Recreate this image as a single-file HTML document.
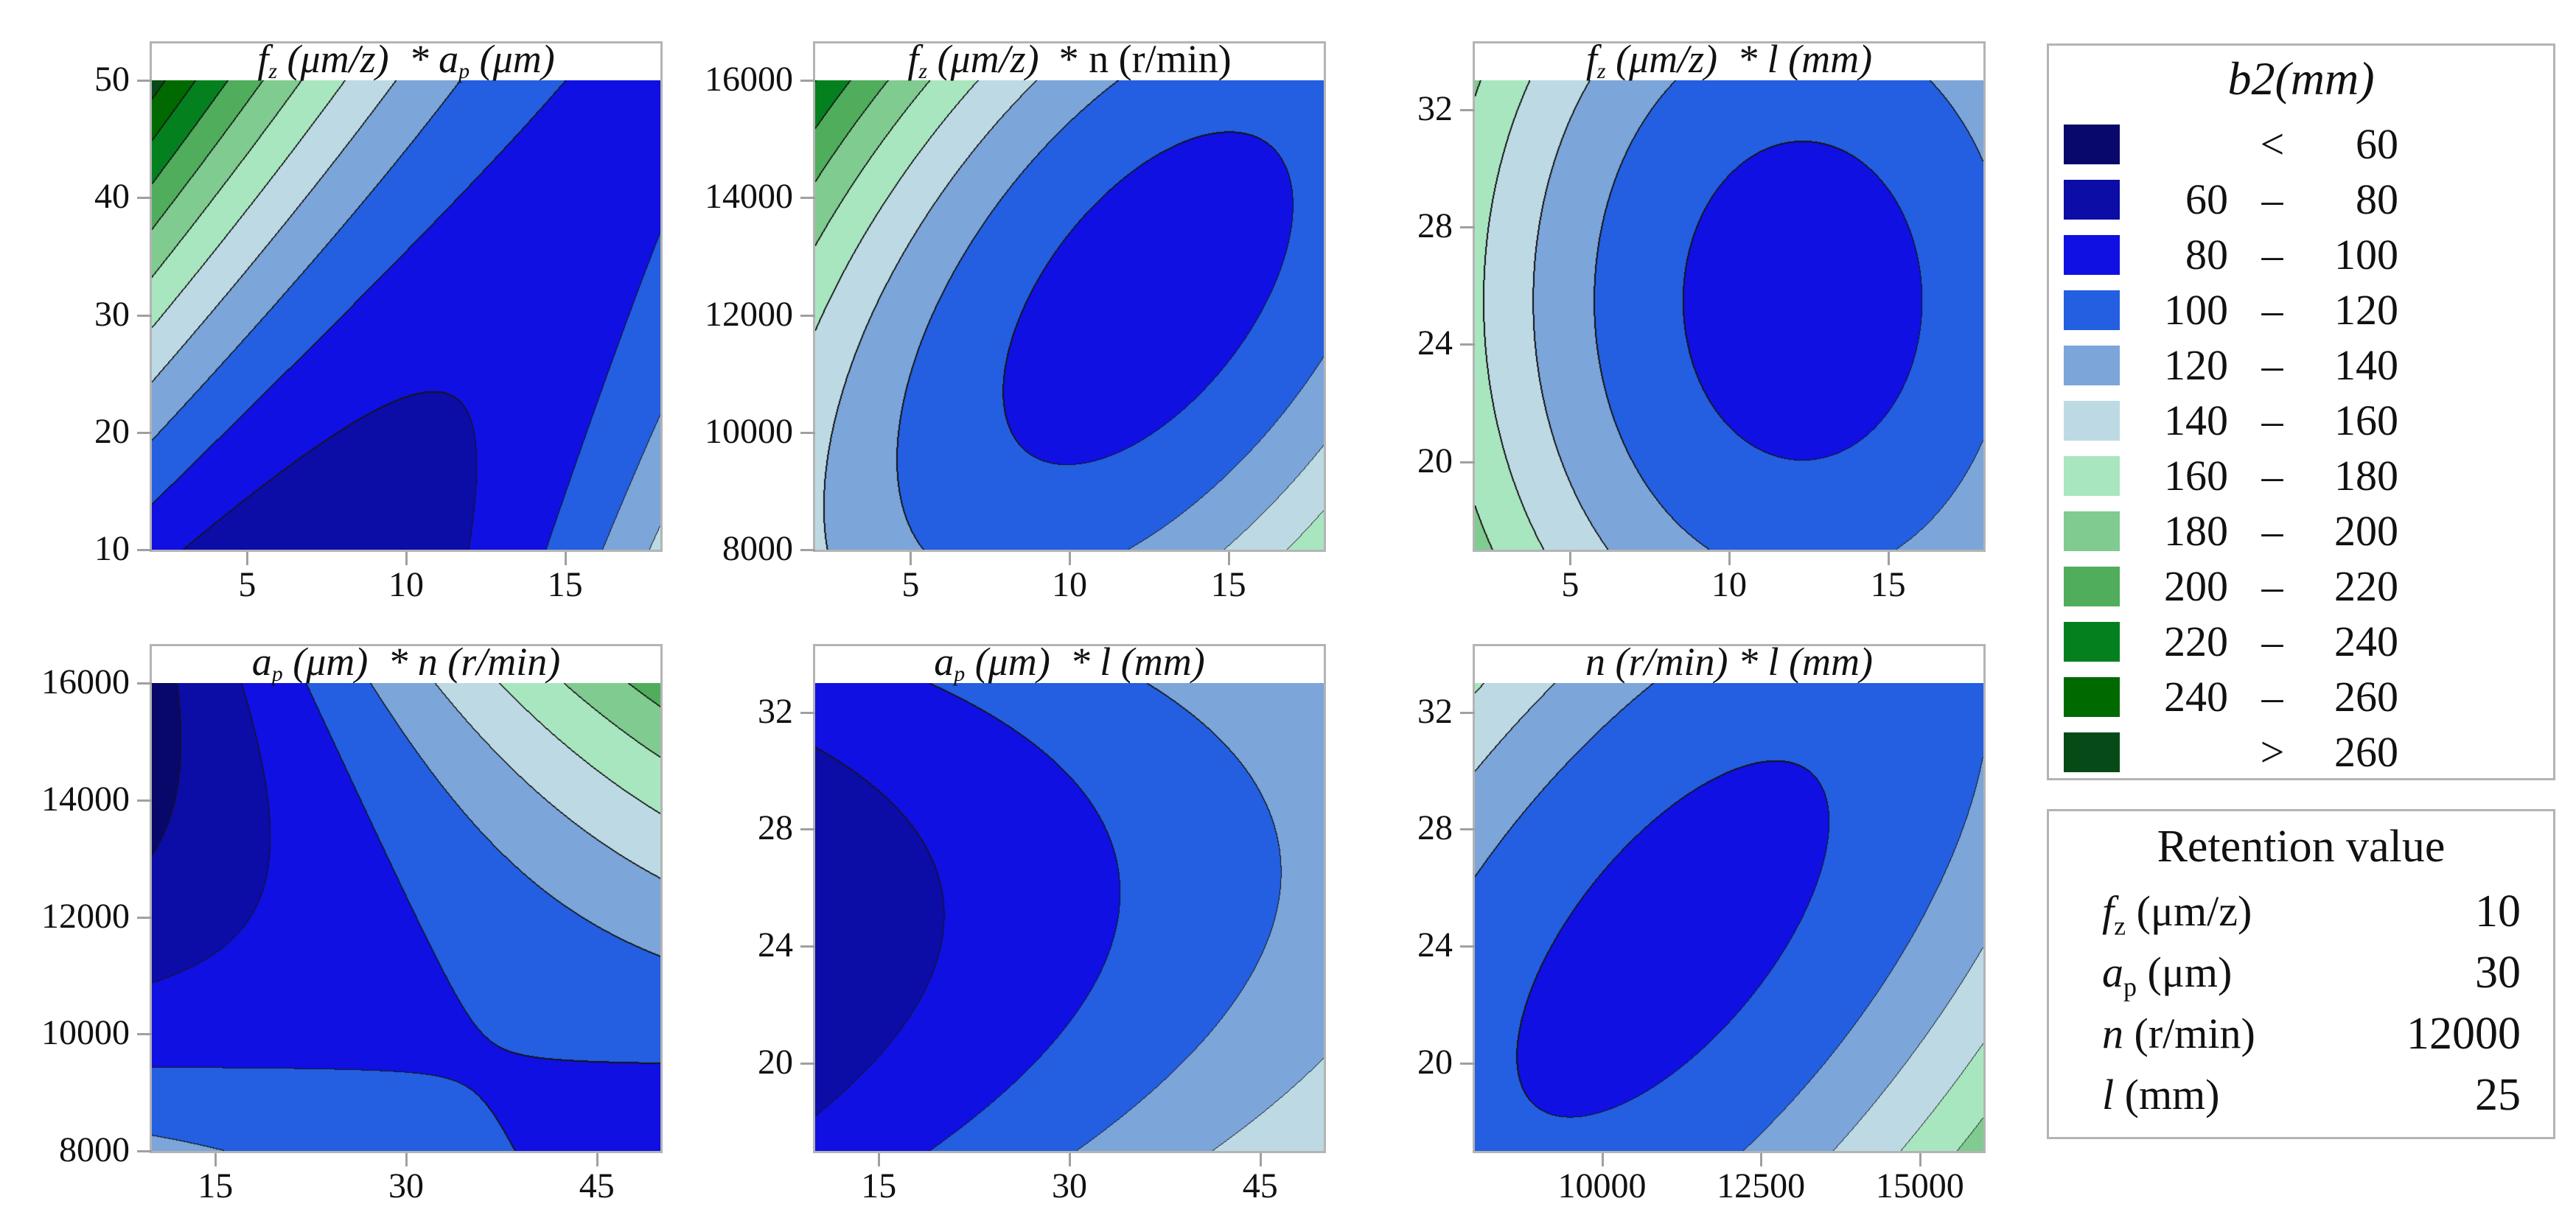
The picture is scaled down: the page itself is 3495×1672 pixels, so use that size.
<!DOCTYPE html>
<html><head><meta charset="utf-8">
<style>
html,body{margin:0;padding:0;background:#fff;}
#root{position:relative;width:3495px;height:1672px;overflow:hidden;background:#fff;font-family:"Liberation Serif",serif;color:#111;}
.frame{position:absolute;border:3px solid #b4b4b4;box-sizing:border-box;background:#fff;}
.hdr{position:absolute;font-style:italic;font-size:54px;text-align:center;white-space:nowrap;line-height:50px;overflow:visible;z-index:3;}
.hdr sub{font-size:30px;vertical-align:-8px;}
.tick{position:absolute;font-size:48px;line-height:48px;white-space:nowrap;}
.tm{position:absolute;background:#a0a0a0;}
canvas{position:absolute;z-index:2;}
.lg{position:absolute;font-size:58px;line-height:64px;white-space:nowrap;}
.sw{position:absolute;width:76px;height:54px;}
</style></head>
<body>
<div id="root">
  <div class="frame" style="left:2777px;top:59px;width:690px;height:1000px;"></div>
  <div class="lg" style="left:2777px;width:690px;top:75px;text-align:center;font-style:italic;font-size:64px;">b2(mm)</div>
  <div class="frame" style="left:2777px;top:1098px;width:690px;height:448px;"></div>
  <div class="lg" style="left:2777px;width:690px;top:1117px;text-align:center;font-size:62px;">Retention value</div>
</div>
<script>
// ---------- data ----------
const bandLevels = [60, 80, 100, 120, 140, 160, 180, 200, 220, 240, 260];
const bandColors = ["#08086a","#0c0ca6","#1010e2","#235fe0","#7ca5d9","#bddae4","#a8e6c0","#80cb90","#50ad5c","#04801f","#006a00","#064a18"];
const panelTitles = [
  '<i>f</i><sub>z</sub> (<i>μm/z</i>)&nbsp; * <i>a</i><sub>p</sub> (<i>μm</i>)',
  '<i>f</i><sub>z</sub> (<i>μm/z</i>)&nbsp; <span style="font-style:normal">* n (r/min)</span>',
  '<i>f</i><sub>z</sub> (<i>μm/z</i>)&nbsp; * <i>l (mm)</i>',
  '<i>a</i><sub>p</sub> (<i>μm</i>)&nbsp; * <i>n (r/min)</i>',
  '<i>a</i><sub>p</sub> (<i>μm</i>)&nbsp; * <i>l (mm)</i>',
  '<i>n (r/min) * l (mm)</i>'
];
const xDomains = [[2,18],[2,18],[2,18],[10,50],[10,50],[8000,16000]];
const yDomains = [[10,50],[8000,16000],[17,33],[8000,16000],[17,33],[17,33]];
const xTicks = [[5,10,15],[5,10,15],[5,10,15],[15,30,45],[15,30,45],[10000,12500,15000]];
const yTicks = [[10,20,30,40,50],[8000,10000,12000,14000,16000],[20,24,28,32],[8000,10000,12000,14000,16000],[20,24,28,32],[20,24,28,32]];
// response-surface coefficients per panel: [c0, u, v, u^2, v^2, u*v] on normalized axes
const coefFzAp = [90, -29, 33.25, 46, 13.25, -58];
const coefFzN  = [93.57, -24.9, 8.41, 44.7, 28.9, -40.2];
const coefFzL  = [94.0, -25.69, -2.54, 44.3, 21.2, 0];
const coefApN  = [98.75, 30.75, 11.75, 0, 20.5, 48.25];
const coefApL  = [94.12, 29.95, -3.24, 2.44, 21.6, -6];
const coefNL   = [94.47, 10.28, -3.32, 30.3, 19.7, -32.1];
const coefs = [coefFzAp, coefFzN, coefFzL, coefApN, coefApL, coefNL];
const legendLow  = ["", "60", "80", "100", "120", "140", "160", "180", "200", "220", "240", ""];
const legendSep  = ["<", "–", "–", "–", "–", "–", "–", "–", "–", "–", "–", ">"];
const legendHigh = ["60", "80", "100", "120", "140", "160", "180", "200", "220", "240", "260", "260"];
const retentionLabels = ['<i>f</i><sub style="font-size:36px">z</sub> (μm/z)', '<i>a</i><sub style="font-size:36px">p</sub> (μm)', '<i>n</i> (r/min)', '<i>l</i> (mm)'];
const retentionValues = ["10", "30", "12000", "25"];

// ---------- layout ----------
const colX = [206, 1106, 2001];
const plotW = 690;
const rowTop = [109, 927];
const plotH = [637, 635];
const hdrH = 50;
const root = document.getElementById('root');

function band(z){ let b = 0; while (b < bandLevels.length && z >= bandLevels[b]) b++; return b; }
function hexRGB(h){ return [parseInt(h.substr(1,2),16), parseInt(h.substr(3,2),16), parseInt(h.substr(5,2),16)]; }
const rgb = bandColors.map(hexRGB);

for (let p = 0; p < 6; p++) {
  const L = colX[p % 3], T = rowTop[Math.floor(p / 3)], H = plotH[Math.floor(p / 3)], W = plotW;
  const xd = xDomains[p], yd = yDomains[p], c = coefs[p];
  const xs = v => L + (v - xd[0]) / (xd[1] - xd[0]) * W;
  const ys = v => T + H - (v - yd[0]) / (yd[1] - yd[0]) * H;

  const fr = document.createElement('div');
  fr.className = 'frame';
  fr.style.cssText = `left:${L-3}px;top:${T-hdrH-3}px;width:${W+6}px;height:${H+hdrH+6}px;`;
  
  
  root.appendChild(fr);

  const cv = document.createElement('canvas');
  cv.width = W; cv.height = H;
  cv.style.left = L + 'px'; cv.style.top = T + 'px';
  
  
  root.appendChild(cv);

  const hd = document.createElement('div');
  hd.className = 'hdr';
  hd.style.cssText = `left:${L}px;top:${T-hdrH-4}px;width:${W}px;`;
  hd.innerHTML = panelTitles[p];
  
  
  root.appendChild(hd);

  const ctx = cv.getContext('2d');
  const img = ctx.createImageData(W, H);
  const bg = new Int8Array(W * H);
  for (let j = 0; j < H; j++) {
    const yv = yd[1] - (j + 0.5) / H * (yd[1] - yd[0]);
    const v = (yv - (yd[0] + yd[1]) / 2) / ((yd[1] - yd[0]) / 2);
    for (let i = 0; i < W; i++) {
      const xv = xd[0] + (i + 0.5) / W * (xd[1] - xd[0]);
      const u = (xv - (xd[0] + xd[1]) / 2) / ((xd[1] - xd[0]) / 2);
      const z = c[0] + c[1]*u + c[2]*v + c[3]*u*u + c[4]*v*v + c[5]*u*v;
      bg[j*W+i] = band(z);
    }
  }
  for (let j = 0; j < H; j++) for (let i = 0; i < W; i++) {
    const k = j*W+i, b = bg[k];
    let edge = false;
    if (i+1 < W && bg[k+1] !== b) edge = true;
    if (j+1 < H && bg[k+W] !== b) edge = true;
    if (i > 0 && bg[k-1] > b) edge = true;
    if (j > 0 && bg[k-W] > b) edge = true;
    const col = edge ? [20,20,20] : rgb[b];
    img.data[k*4] = col[0]; img.data[k*4+1] = col[1]; img.data[k*4+2] = col[2]; img.data[k*4+3] = 255;
  }
  ctx.putImageData(img, 0, 0);

  yTicks[p].forEach(t => {
    const y = ys(t);
    const tm = document.createElement('div');
    tm.className = 'tm';
    tm.style.cssText = `left:${L-20}px;top:${y-1}px;width:20px;height:3px;`;
    
    
    root.appendChild(tm);
    const lb = document.createElement('div');
    lb.className = 'tick';
    lb.style.cssText = `left:${L-330}px;width:300px;text-align:right;top:${y-25}px;`;
    lb.textContent = t;
    
    
    root.appendChild(lb);
  });
  xTicks[p].forEach(t => {
    const x = xs(t);
    const tm = document.createElement('div');
    tm.className = 'tm';
    tm.style.cssText = `left:${x-1}px;top:${T+H+3}px;width:3px;height:18px;`;
    
    
    root.appendChild(tm);
    const lb = document.createElement('div');
    lb.className = 'tick';
    lb.style.cssText = `left:${x-150}px;width:300px;text-align:center;top:${T+H+24}px;`;
    lb.textContent = t;
    
    
    root.appendChild(lb);
  });
}

// legend
for (let r = 0; r < bandColors.length; r++) {
  const cy = 196 + r * 75;
  const sw = document.createElement('div');
  sw.className = 'sw';
  sw.style.cssText = `left:2800px;top:${cy-27}px;background:${bandColors[r]};`;
  
  
  root.appendChild(sw);
  const a = document.createElement('div');
  a.className = 'lg';
  a.style.cssText = `left:2880px;width:143px;text-align:right;top:${cy-32}px;`;
  a.textContent = legendLow[r];
  
  
  root.appendChild(a);
  const s = document.createElement('div');
  s.className = 'lg';
  s.style.cssText = `left:3043px;width:80px;text-align:center;top:${cy-32}px;`;
  s.textContent = legendSep[r];
  
  
  root.appendChild(s);
  const h = document.createElement('div');
  h.className = 'lg';
  h.style.cssText = `left:3104px;width:150px;text-align:right;top:${cy-32}px;`;
  h.textContent = legendHigh[r];
  
  
  root.appendChild(h);
}
// retention
for (let r = 0; r < retentionLabels.length; r++) {
  const cy = 1237 + r * 83;
  const a = document.createElement('div');
  a.className = 'lg';
  a.style.cssText = `left:2852px;top:${cy-32}px;font-size:58px;`;
  a.innerHTML = retentionLabels[r];
  
  
  root.appendChild(a);
  const v = document.createElement('div');
  v.className = 'lg';
  v.style.cssText = `left:3120px;width:300px;text-align:right;top:${cy-32}px;font-size:62px;`;
  v.textContent = retentionValues[r];
  
  
  root.appendChild(v);
}
</script>
</body></html>
